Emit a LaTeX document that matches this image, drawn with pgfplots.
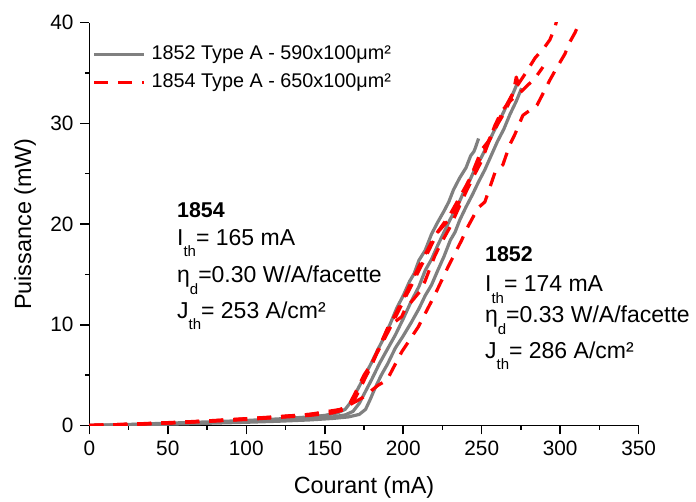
\documentclass[border=0pt]{standalone}
\usepackage{pgfplots}
\pgfplotsset{compat=1.18}
\usepackage{fontspec}
\setmainfont{Liberation Sans}
\definecolor{cgray}{RGB}{128,128,128}
\definecolor{cred}{RGB}{255,0,0}
\newcommand{\sub}[1]{\raisebox{-0.5em}{\fontsize{7.5}{8}\selectfont #1}}
\newcommand{\ann}{\fontsize{11.5}{13}\selectfont}
\begin{document}
\fontsize{9.75}{11.7}\selectfont
\begin{tikzpicture}
\begin{axis}[
  at={(0,0)}, anchor=south west,
  scale only axis, width=274.7pt, height=201.4pt,
  xmin=0, xmax=350, ymin=0, ymax=40,
  axis lines=left,
  axis line style={-, line width=0.75pt, black},
  xtick={0,50,...,350}, ytick={0,10,20,30,40},
  minor x tick num=1, minor y tick num=1,
  tick align=outside,
  major tick length=4.5pt, minor tick length=2.25pt,
  every tick/.style={line width=0.75pt, black},
  tick label style={font=\fontsize{10.4}{12}\selectfont},
  /pgf/number format/assume math mode=true,
  xlabel={Courant (mA)}, ylabel={Puissance (mW)},
  label style={font=\fontsize{11.7}{13}\selectfont},
  xlabel style={at={(axis description cs:0.5,-0.155)}, anchor=center},
  ylabel style={at={(axis description cs:-0.117,0.5)}, anchor=center, rotate=0},
  clip mode=individual,
  legend style={draw=none, fill=none, at={(rel axis cs:0.005,0.948)}, anchor=north west,
    font=\fontsize{9.9}{11.7}\selectfont, row sep=3.5pt, inner sep=0pt,
    nodes={inner sep=1pt}, column sep=2pt},
  legend cell align=left,
  legend image code/.code={\draw[#1] (0pt,0pt) -- (25pt,0pt);},
  every axis plot/.append style={line join=round},
]
\pgfplotsset{
  gl/.style={cgray, line width=1.6pt, solid},
  rl/.style={cred, line width=1.6pt, dash pattern=on 7pt off 5pt}
}
% gray curves (1852)
\addplot[gl] coordinates {(0,0) (20,0.08) (40,0.18) (60,0.28) (80,0.38) (100,0.5) (120,0.65) (140,0.85) (150,1.0) (158,1.25) (163,1.6) (167,2.4) (171,3.6) (175,4.8) (180,6.3) (184,7.6) (188,8.8) (192,10.2) (196,11.7) (200,12.9) (204,14.3) (207,15.1) (210,16.4) (214,17.4) (218,19.0) (222,20.2) (226,21.3) (229,22.2) (232,23.4) (236,24.6) (240,25.6) (243,26.8) (245,27.2) (246,27.6) (248,28.5)};
\addlegendentry{1852 Type A - 590x100μm²}
\addplot[gl, forget plot] coordinates {(0,0) (20,0.06) (40,0.14) (60,0.22) (80,0.3) (100,0.4) (120,0.52) (140,0.68) (155,0.85) (163,1.05) (168,1.4) (172,2.2) (176,3.4) (180,4.6) (185,6.2) (190,7.6) (195,9.0) (200,10.6) (205,12.3) (210,13.8) (214,15.4) (218,16.5) (222,17.9) (226,19.2) (230,20.5) (234,21.6) (238,23.0) (242,24.2) (246,25.6) (250,26.7) (254,28.0) (258,29.3) (262,30.5) (266,31.8) (270,33.0) (273,34.1)};
\addplot[gl, forget plot] coordinates {(0,0) (20,0.05) (40,0.1) (60,0.17) (80,0.24) (100,0.32) (120,0.42) (140,0.55) (155,0.7) (165,0.85) (172,1.1) (176,1.6) (179,2.6) (182,3.7) (186,5.0) (190,6.1) (195,7.7) (200,8.9) (205,10.2) (210,11.6) (214,12.9) (218,13.95) (222,15.4) (226,16.8) (230,18.4) (233,19.2) (236,20.4) (240,21.7) (244,22.9) (248,24.2) (252,25.4) (256,26.8) (260,28.2) (264,29.4) (268,30.9) (272,32.2) (275.4,33.5)};
% red curves (1854)
\addplot[rl] coordinates {(0,0) (20,0.1) (40,0.22) (60,0.35) (80,0.5) (100,0.68) (120,0.88) (140,1.1) (155,1.35) (162,1.7) (166,2.2) (170,3.4) (175,5.0) (180,6.2) (190,9.2) (200,12.3) (210,15.4) (222,19.2) (230,20.6) (234,21.7) (242.5,24.5) (250,27.4) (255.2,28.4) (260,29.9) (265,31.2) (270,33.0) (272,34.6) (274.5,33.4)};
\addlegendentry{1854 Type A - 650x100μm²}
\addplot[rl, forget plot] coordinates {(0,0) (20,0.08) (40,0.18) (60,0.3) (80,0.45) (100,0.6) (120,0.8) (140,1.0) (155,1.25) (163,1.6) (168,2.3) (172,3.5) (176,4.8) (180,6.0) (185,7.9) (190.4,9.8) (199,10.8) (201,11.5) (210.6,13.3) (213.8,14.3) (220,16.8) (223.4,17.9) (229.8,19.7) (235,21.5) (240,23.2) (245,24.8) (250,26.3) (258.4,29.8) (262.7,31.2) (268,32.2) (275.4,33.2) (284,34.5) (289,35.6)};
\addplot[rl, forget plot] coordinates {(0,0) (20,0.09) (40,0.2) (60,0.32) (80,0.47) (100,0.64) (120,0.84) (140,1.05) (155,1.3) (165,1.8) (170,3.0) (180,6.2) (190,9.5) (200,12.6) (210,15.8) (220,18.8) (230,21.0) (240,23.8) (250,26.8) (258,29.5) (265,31.6) (272,33.6) (278,35.0) (284,36.5) (290.2,37.6) (293.4,38.3) (296.6,39.5) (299,41)};
\addplot[rl, forget plot] coordinates {(0,0) (20,0.1) (40,0.2) (60,0.33) (80,0.48) (100,0.65) (120,0.85) (140,1.1) (160,1.6) (170,2.4) (176.7,3.0) (180,3.5) (184,4.0) (189.6,4.5) (199,7.3) (209.6,9.8) (220.2,13.0) (228.7,15.8) (237.2,18.4) (240,19.4) (247.6,21.6) (252,22.2) (258.4,25.1) (263.5,25.9) (267.9,27.9) (271.1,28.9) (276.2,30.8) (285.2,31.8) (293.4,34.3) (296.6,35.2) (303,36.9) (306.2,38.1) (309.4,39) (312.5,40.1) (314,40.6)};
% annotations
\node[anchor=base west, inner sep=0pt] at (axis cs:55.7,20.68) {\fontsize{10.7}{12}\selectfont\textbf{1854}};
\node[anchor=base west, inner sep=0pt] at (axis cs:55.7,17.92) {\ann I\sub{th}= 165 mA};
\node[anchor=base west, inner sep=0pt] at (axis cs:55.7,14.18) {\ann η\sub{d}=0.30 W/A/facette};
\node[anchor=base west, inner sep=0pt] at (axis cs:55.7,10.65) {\ann J\sub{th}= 253 A/cm²};
\node[anchor=base west, inner sep=0pt] at (axis cs:251.9,16.27) {\fontsize{10.7}{12}\selectfont\textbf{1852}};
\node[anchor=base west, inner sep=0pt] at (axis cs:251.9,13.29) {\ann I\sub{th}= 174 mA};
\node[anchor=base west, inner sep=0pt] at (axis cs:251.9,10.21) {\ann η\sub{d}=0.33 W/A/facette};
\node[anchor=base west, inner sep=0pt] at (axis cs:251.9,6.70) {\ann J\sub{th}= 286 A/cm²};
\end{axis}
\pgfresetboundingbox
\path[use as bounding box] (-44.65pt,-38.25pt) rectangle (303.35pt,212.75pt);
\end{tikzpicture}
\end{document}
